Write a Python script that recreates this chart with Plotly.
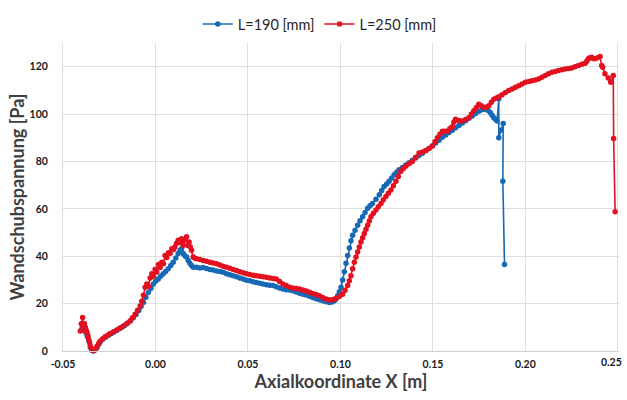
import plotly.graph_objects as go

# ---- data ----
x_190 = [-0.0398, -0.0394, -0.0388, -0.0382, -0.0375, -0.0368, -0.0360, -0.0352, -0.0343, -0.0334,
         -0.0325, -0.0316, -0.0307, -0.0298, -0.0285, -0.0270, -0.0255, -0.0240, -0.0225, -0.0210,
         -0.0195, -0.0180, -0.0165, -0.0150, -0.0135, -0.0120, -0.0105, -0.0090, -0.0078, -0.0065,
         -0.0052, -0.0038, -0.0024, -0.0011, 0.0002, 0.0015, 0.0028, 0.0042, 0.0055, 0.0069,
         0.0083, 0.0096, 0.0110, 0.0123, 0.0133, 0.0141, 0.0150, 0.0159, 0.0168, 0.0177,
         0.0186, 0.0195, 0.0204, 0.0222, 0.0240, 0.0258, 0.0276, 0.0294, 0.0312, 0.0330,
         0.0348, 0.0366, 0.0384, 0.0402, 0.0420, 0.0438, 0.0456, 0.0474, 0.0492, 0.0510,
         0.0527, 0.0545, 0.0563, 0.0581, 0.0600, 0.0617, 0.0635, 0.0653, 0.0671, 0.0689,
         0.0707, 0.0725, 0.0743, 0.0761, 0.0779, 0.0796, 0.0814, 0.0832, 0.0850, 0.0868,
         0.0886, 0.0904, 0.0922, 0.0940, 0.0955, 0.0967, 0.0976, 0.0985, 0.0994, 0.1003,
         0.1012, 0.1021, 0.1030, 0.1039, 0.1048, 0.1057, 0.1066, 0.1079, 0.1093, 0.1106,
         0.1120, 0.1133, 0.1147, 0.1160, 0.1173, 0.1192, 0.1210, 0.1223, 0.1236, 0.1250,
         0.1263, 0.1277, 0.1290, 0.1304, 0.1317, 0.1335, 0.1353, 0.1371, 0.1389, 0.1407,
         0.1425, 0.1443, 0.1461, 0.1479, 0.1497, 0.1515, 0.1533, 0.1551, 0.1569, 0.1587,
         0.1605, 0.1623, 0.1641, 0.1659, 0.1677, 0.1695, 0.1713, 0.1731, 0.1748, 0.1766,
         0.1784, 0.1798, 0.1811, 0.1820, 0.1829, 0.1838, 0.1847, 0.1856, 0.1856, 0.1868,
         0.1880, 0.1878, 0.1887]
y_190 = [9.5, 11.5, 10.0, 8.5, 7.5, 6.0, 4.2, 1.5, 0.2, 0.0,
         0.5, 1.5, 2.8, 3.9, 5.0, 5.8, 6.6, 7.3, 8.0, 8.7,
         9.4, 10.1, 10.9, 11.8, 12.8, 14.0, 15.4, 17.1, 18.8, 20.5,
         22.7, 24.8, 26.5, 28.3, 29.5, 30.4, 31.5, 32.6, 33.6, 34.7,
         36.1, 37.5, 39.3, 41.1, 42.5, 43.2, 41.1, 40.2, 39.7, 38.2,
         37.0, 36.1, 35.4, 35.4, 35.0, 35.2, 34.8, 34.4, 34.2, 33.8,
         33.6, 33.2, 32.6, 32.2, 31.8, 31.3, 30.8, 30.4, 29.9, 29.6,
         29.2, 28.9, 28.6, 28.3, 28.0, 27.8, 27.6, 27.1, 26.6, 26.2,
         25.9, 25.7, 25.4, 24.9, 24.4, 24.0, 23.6, 23.1, 22.6, 22.1,
         21.6, 21.2, 20.8, 20.5, 20.7, 21.2, 22.0, 23.3, 25.0, 26.9,
         30.0, 33.5, 37.0, 40.3, 43.5, 46.5, 48.9, 51.0, 53.1, 55.0,
         56.7, 58.5, 60.2, 61.3, 62.3, 64.0, 65.9, 67.7, 69.4, 70.5,
         71.6, 73.0, 74.4, 75.4, 76.5, 77.5, 78.5, 79.5, 80.5, 81.5,
         82.5, 83.5, 84.5, 85.5, 86.5, 87.8, 89.0, 90.2, 91.2, 92.2,
         93.2, 94.2, 95.2, 96.2, 97.2, 98.2, 99.2, 100.2, 101.2, 101.8,
         102.0, 101.5, 100.6, 99.5, 98.5, 97.8, 97.1, 106.5, 90.0, 93.3,
         96.0, 71.6, 36.5]

x_250 = [-0.0406, -0.0401, -0.0394, -0.0389, -0.0384, -0.0379, -0.0374, -0.0370, -0.0365, -0.0361,
         -0.0356, -0.0352, -0.0345, -0.0338, -0.0331, -0.0325, -0.0316, -0.0307, -0.0299, -0.0285,
         -0.0272, -0.0258, -0.0245, -0.0227, -0.0209, -0.0191, -0.0173, -0.0155, -0.0137, -0.0124,
         -0.0110, -0.0097, -0.0083, -0.0074, -0.0065, -0.0056, -0.0047, -0.0038, -0.0029, -0.0020,
         -0.0011, -0.0002, 0.0007, 0.0016, 0.0025, 0.0034, 0.0043, 0.0052, 0.0061, 0.0070,
         0.0079, 0.0088, 0.0097, 0.0105, 0.0114, 0.0123, 0.0132, 0.0141, 0.0150, 0.0159,
         0.0168, 0.0175, 0.0182, 0.0188, 0.0195, 0.0204, 0.0213, 0.0222, 0.0240, 0.0258,
         0.0276, 0.0294, 0.0312, 0.0330, 0.0348, 0.0366, 0.0384, 0.0402, 0.0420, 0.0438,
         0.0456, 0.0474, 0.0492, 0.0510, 0.0528, 0.0546, 0.0564, 0.0582, 0.0600, 0.0618,
         0.0636, 0.0653, 0.0671, 0.0689, 0.0707, 0.0725, 0.0743, 0.0761, 0.0779, 0.0797,
         0.0815, 0.0833, 0.0851, 0.0869, 0.0886, 0.0904, 0.0922, 0.0935, 0.0949, 0.0962,
         0.0976, 0.0994, 0.1012, 0.1025, 0.1039, 0.1048, 0.1057, 0.1066, 0.1075, 0.1084,
         0.1093, 0.1102, 0.1111, 0.1120, 0.1129, 0.1138, 0.1147, 0.1156, 0.1165, 0.1178,
         0.1192, 0.1205, 0.1219, 0.1232, 0.1246, 0.1259, 0.1273, 0.1286, 0.1300, 0.1313,
         0.1326, 0.1340, 0.1353, 0.1371, 0.1389, 0.1407, 0.1425, 0.1443, 0.1461, 0.1479,
         0.1497, 0.1511, 0.1524, 0.1538, 0.1551, 0.1565, 0.1578, 0.1591, 0.1604, 0.1613,
         0.1622, 0.1640, 0.1658, 0.1676, 0.1694, 0.1708, 0.1721, 0.1735, 0.1748, 0.1762,
         0.1775, 0.1788, 0.1802, 0.1816, 0.1829, 0.1843, 0.1856, 0.1874, 0.1892, 0.1910,
         0.1928, 0.1946, 0.1964, 0.1982, 0.2000, 0.2018, 0.2035, 0.2053, 0.2071, 0.2089,
         0.2107, 0.2125, 0.2143, 0.2161, 0.2179, 0.2197, 0.2215, 0.2233, 0.2250, 0.2268,
         0.2287, 0.2305, 0.2323, 0.2332, 0.2340, 0.2349, 0.2358, 0.2367, 0.2376, 0.2390,
         0.2404, 0.2412, 0.2418, 0.2430, 0.2448, 0.2461, 0.2475, 0.2477, 0.2485]
y_250 = [8.4, 11.5, 14.1, 10.6, 11.5, 9.9, 8.6, 7.7, 6.3, 4.9,
         3.4, 2.0, 0.8, 0.2, 0.3, 0.8, 2.0, 3.2, 4.2, 5.2,
         6.0, 6.7, 7.4, 8.1, 8.9, 9.7, 10.6, 11.6, 12.7, 14.0,
         15.5, 17.2, 19.0, 21.0, 23.5, 26.9, 28.3, 27.3, 30.8, 32.6,
         31.5, 34.5, 33.3, 36.5, 35.2, 37.5, 36.8, 40.3, 39.5, 41.5,
         41.2, 43.2, 42.8, 43.9, 45.5, 46.7, 45.8, 47.4, 44.6, 46.8,
         48.2, 44.5, 46.0, 44.0, 42.5, 39.7, 39.2, 38.9, 38.6, 38.2,
         37.9, 37.5, 37.1, 36.8, 36.3, 35.8, 35.4, 34.9, 34.4, 34.0,
         33.5, 33.0, 32.6, 32.3, 32.0, 31.8, 31.6, 31.3, 31.1, 30.8,
         30.6, 30.4, 29.3, 28.3, 27.6, 26.9, 26.6, 26.4, 26.2, 25.7,
         25.3, 24.8, 24.3, 23.8, 23.3, 22.6, 21.9, 21.6, 21.5, 21.7,
         22.2, 23.0, 24.0, 25.6, 27.6, 29.7, 31.8, 34.7, 37.5, 39.7,
         41.8, 43.9, 46.0, 47.8, 49.6, 51.4, 53.1, 54.9, 56.7, 58.1,
         59.5, 60.9, 62.3, 63.8, 65.2, 66.6, 68.0, 69.8, 71.6, 73.7,
         75.8, 77.0, 78.0, 79.0, 80.0, 81.8, 83.6, 84.0, 84.6, 85.5,
         86.5, 88.3, 90.0, 91.5, 92.8, 92.8, 92.8, 93.8, 94.6, 96.5,
         97.8, 97.3, 97.1, 97.7, 98.5, 100.0, 101.4, 102.8, 104.2, 103.5,
         102.8, 103.0, 103.5, 105.0, 106.3, 106.8, 107.3, 108.2, 109.1, 109.9,
         110.6, 111.3, 112.0, 112.7, 113.4, 113.8, 114.1, 114.4, 114.8, 115.5,
         116.3, 117.0, 117.7, 118.0, 118.4, 118.7, 119.0, 119.2, 119.5, 120.0,
         120.5, 121.0, 121.5, 122.3, 123.3, 123.8, 124.0, 123.5, 123.3, 123.8,
         124.3, 120.5, 119.8, 117.0, 115.2, 113.4, 116.3, 89.7, 58.8]

x_tickvals = [-0.05, 0.0, 0.05, 0.10, 0.15, 0.20, 0.25]
x_ticktext = ["-0.05", "0.00", "0.05", "0.10", "0.15", "0.20", "0.25"]
y_tickvals = [0, 20, 40, 60, 80, 100, 120]

name_190 = "L=190 [mm]"
name_250 = "L=250 [mm]"

BLUE = "#1769b5"
RED = "#e3101f"
FONT = "Lato, 'Open Sans', sans-serif"
TICKFONT = dict(size=10.5, family=FONT, color="#1a1a1a", weight="bold")

fig = go.Figure()
fig.add_trace(go.Scatter(x=x_190, y=y_190, name=name_190, mode="lines+markers",
                         line=dict(color=BLUE, width=1.6),
                         marker=dict(color=BLUE, size=5.5), cliponaxis=False))
fig.add_trace(go.Scatter(x=x_250, y=y_250, name=name_250, mode="lines+markers",
                         line=dict(color=RED, width=1.6),
                         marker=dict(color=RED, size=5.5), cliponaxis=False))

# the last x tick label sits at the window edge: drawn right-aligned so it stays inside
axis_ticktext = x_ticktext[:-1] + [""]
fig.add_annotation(x=x_tickvals[-1], xref="x", y=0, yref="paper",
                   text=x_ticktext[-1], showarrow=False,
                   xanchor="right", yanchor="top", xshift=6.5, yshift=-3,
                   font=TICKFONT)

fig.update_layout(
    width=627, height=400,
    margin=dict(l=63, r=8, t=43, b=48.5),
    paper_bgcolor="white", plot_bgcolor="white",
    font=dict(family=FONT, color="#262626"),
    legend=dict(orientation="h", xref="container", yref="container",
                x=0.51, xanchor="center", y=0.98, yanchor="top",
                font=dict(size=14.5, color="#262626", family=FONT),
                itemwidth=30, tracegroupgap=0),
    showlegend=True,
)
fig.update_xaxes(range=[-0.05, 0.2506], tickvals=x_tickvals, ticktext=axis_ticktext,
                 automargin=False,
                 showgrid=True, gridcolor="#dedede", gridwidth=1,
                 showline=True, linecolor="#d0d0d0", linewidth=1, zeroline=False,
                 ticks="", ticklabelstandoff=3,
                 tickfont=TICKFONT,
                 title=dict(text="<b>Axialkoordinate X [m]</b>", standoff=2,
                            font=dict(size=18, family=FONT, color="#404040")))
fig.update_yaxes(range=[0, 130], tickvals=y_tickvals,
                 automargin=False,
                 showgrid=True, gridcolor="#dedede", gridwidth=1,
                 showline=True, linecolor="#dedede", linewidth=1, zeroline=False,
                 ticks="", ticklabelstandoff=12,
                 tickfont=TICKFONT,
                 title=dict(text="<b>Wandschubspannung [Pa]</b>", standoff=0,
                            font=dict(size=18, family=FONT, color="#404040")))

# remove the default page margin so the 627x400 figure fills the window exactly
fig.write_html("out.html",
               config={"displayModeBar": False},
               post_script="document.body.style.margin='0';"
                           "document.body.style.overflow='hidden';")
